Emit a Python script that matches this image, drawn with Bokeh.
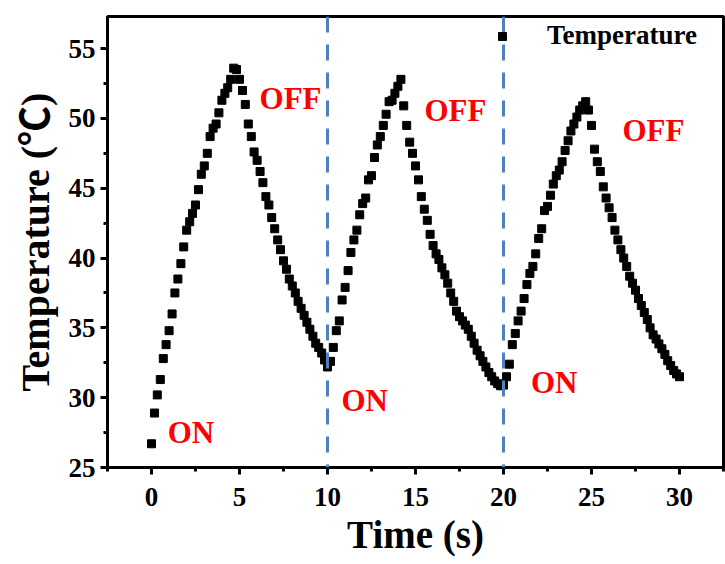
from bokeh.plotting import figure
from bokeh.models import Range1d, SingleIntervalTicker, Span, ColumnDataSource
from bokeh.core.properties import value
from bokeh.embed import file_html
from bokeh.resources import INLINE

FONT = "Liberation Serif"

# ---------------- data ----------------
time_s = [
    0, 0.17, 0.33, 0.5, 0.67, 0.83, 1, 1.17, 1.33, 1.5, 1.67, 1.83,
    2, 2.17, 2.33, 2.5, 2.67, 2.83, 3, 3.17, 3.33, 3.5, 3.67, 3.83,
    4, 4.17, 4.33, 4.5, 4.67, 4.83, 5, 5.17, 5.33, 5.5, 5.67, 5.83,
    6, 6.17, 6.33, 6.5, 6.67, 6.83, 7, 7.17, 7.33, 7.5, 7.67, 7.83,
    8, 8.17, 8.33, 8.5, 8.67, 8.83, 9, 9.17, 9.33, 9.5, 9.67, 9.83,
    10, 10.17, 10.33, 10.5, 10.67, 10.83, 11, 11.17, 11.33, 11.5, 11.67, 11.83,
    12, 12.17, 12.33, 12.5, 12.67, 12.83, 13, 13.17, 13.33, 13.5, 13.67, 13.83,
    14, 14.17, 14.33, 14.5, 14.67, 14.83, 15, 15.17, 15.33, 15.5, 15.67, 15.83,
    16, 16.17, 16.33, 16.5, 16.67, 16.83, 17, 17.17, 17.33, 17.5, 17.67, 17.83,
    18, 18.17, 18.33, 18.5, 18.67, 18.83, 19, 19.17, 19.33, 19.5, 19.67, 19.83,
    20, 20.17, 20.33, 20.5, 20.67, 20.83, 21, 21.17, 21.33, 21.5, 21.67, 21.83,
    22, 22.17, 22.33, 22.5, 22.67, 22.83, 23, 23.17, 23.33, 23.5, 23.67, 23.83,
    24, 24.17, 24.33, 24.5, 24.67, 24.83, 25, 25.17, 25.33, 25.5, 25.67, 25.83,
    26, 26.17, 26.33, 26.5, 26.67, 26.83, 27, 27.17, 27.33, 27.5, 27.67, 27.83,
    28, 28.17, 28.33, 28.5, 28.67, 28.83, 29, 29.17, 29.33, 29.5, 29.67, 29.83,
    30,
]

temp_cycle1 = [
    26.7, 28.9, 30.2, 31.3, 32.8, 33.8, 34.8, 36.0, 37.5, 38.5, 39.6, 40.8,
    42.0, 42.6, 43.2, 43.8, 44.9, 46.0, 46.6, 47.5, 48.7, 49.3, 49.6, 50.4,
    51.3, 51.8, 52.2, 52.8, 53.6, 53.5, 52.8, 52.0, 51.0, 49.6, 48.7, 47.6,
    47.0, 46.2, 45.4, 44.4, 43.8, 42.9, 42.1, 41.3, 40.6, 39.8, 39.2, 38.5,
    38.0, 37.5, 36.9, 36.4, 35.9, 35.4, 34.9, 34.4, 33.9, 33.6, 33.2, 32.7,
]
temp_cycle2 = [
    32.2, 32.6, 33.6, 34.8, 35.5, 37.0, 37.9, 39.1, 40.4, 41.3, 42.0, 43.1,
    43.9, 44.3, 45.6, 45.9, 47.2, 48.1, 48.7, 49.5, 50.3, 51.2, 51.3, 51.8,
    52.3, 52.8, 50.9, 49.5, 48.3, 47.5, 46.6, 45.6, 44.4, 43.5, 42.7, 41.7,
    40.9, 40.3, 39.9, 39.3, 38.8, 38.2, 37.5, 36.9, 36.2, 35.8, 35.5, 35.2,
    34.9, 34.4, 33.9, 33.4, 33.0, 32.6, 32.2, 31.8, 31.5, 31.2, 31.0, 30.85,
]
temp_cycle3 = [
    30.9, 31.5, 32.4, 33.8, 34.6, 35.5, 36.2, 37.1, 38.1, 38.9, 39.4, 40.3,
    41.4, 42.1, 43.4, 43.7, 44.5, 45.3, 45.9, 46.3, 46.9, 47.7, 48.4, 49.1,
    49.6, 50.1, 50.6, 50.9, 51.2, 50.6, 49.5, 47.8, 46.9, 46.2, 45.1, 44.3,
    43.6, 42.9, 42.0, 41.3, 40.6, 40.0, 39.4, 38.7, 38.2, 37.7, 37.1, 36.6,
    36.1, 35.6, 35.0, 34.5, 34.2, 33.85, 33.5, 33.1, 32.65, 32.3, 31.95, 31.7,
    31.5,
]
temperature = temp_cycle1 + temp_cycle2 + temp_cycle3

switch_times = [10, 20]
state_labels = ["ON", "OFF", "ON", "OFF", "ON", "OFF"]
state_x = [0.92, 6.14, 10.79, 15.51, 21.56, 26.76]
state_y = [27.5, 51.43, 29.8, 50.57, 31.09, 49.14]

# ---------------- figure ----------------
p = figure(
    width=725, height=564,
    x_range=Range1d(-2.5, 32.5), y_range=Range1d(25, 57.3),
    output_backend="svg", toolbar_location=None,
    min_border_left=107, min_border_right=2, min_border_top=16, min_border_bottom=97,
)
p.background_fill_color = "white"
p.border_fill_color = "white"
p.xgrid.visible = False
p.ygrid.visible = False
p.outline_line_color = "black"
p.outline_line_width = 3
p.outline_line_alpha = 1

p.xaxis.ticker = SingleIntervalTicker(interval=5, num_minor_ticks=2)
p.yaxis.ticker = SingleIntervalTicker(interval=5, num_minor_ticks=2)

for ax in (p.xaxis[0], p.yaxis[0]):
    ax.axis_line_width = 3
    ax.axis_line_color = "black"
    ax.major_tick_line_width = 3
    ax.minor_tick_line_width = 3
    ax.major_tick_line_color = "black"
    ax.minor_tick_line_color = "black"
    ax.major_tick_in = 0
    ax.major_tick_out = 7
    ax.minor_tick_in = 0
    ax.minor_tick_out = 4
    ax.major_label_text_font = FONT
    ax.major_label_text_font_style = "bold"
    ax.major_label_text_font_size = "27px"
    ax.major_label_text_color = "black"
    ax.axis_label_text_font = FONT
    ax.axis_label_text_font_style = "bold"
    ax.axis_label_text_color = "black"

p.xaxis.axis_label_text_font_size = "39px"
p.yaxis.axis_label_text_font_size = "40px"
p.yaxis.axis_label_text_font = "'Liberation Serif', 'Noto Sans CJK SC'"
p.xaxis.axis_label = "Time (s)"
p.yaxis.axis_label = "Temperature (\u2103)"
p.xaxis.major_label_standoff = 13
p.yaxis.major_label_standoff = 5
p.xaxis.axis_label_standoff = 4
p.yaxis.axis_label_standoff = 8

src = ColumnDataSource(dict(t=time_s, T=temperature))
p.scatter(x="t", y="T", source=src, marker="square", size=8,
          fill_color="black", line_color="black", legend_label="Temperature")

for ts in switch_times:
    p.add_layout(Span(location=ts, dimension="height", line_color="#4F81BD",
                      line_width=3, line_dash="16 12"))

p.text(x=state_x, y=state_y, text=state_labels, text_font=value(FONT),
       text_font_style="bold", text_font_size="31px", text_color="#FF0000",
       text_align="left", text_baseline="alphabetic")

lg = p.legend[0]
lg.location = (385, 416)
lg.border_line_color = None
lg.background_fill_alpha = 0
lg.label_text_font = FONT
lg.label_text_font_style = "bold"
lg.label_text_font_size = "27px"
lg.label_text_color = "black"
lg.glyph_width = 20
lg.label_standoff = 35
lg.padding = 0
lg.margin = 0

open("out.html", "w").write(file_html(p, INLINE))
